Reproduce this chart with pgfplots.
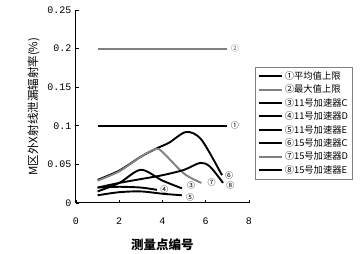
\documentclass[border=0pt]{standalone}
\usepackage{pgfplots}
\pgfplotsset{compat=1.18}
\usepackage{fontspec}
\setmainfont{Liberation Serif}
\newfontfamily\cjk{Noto Sans CJK SC}
\newfontfamily\monof{Liberation Mono}
\tikzset{lbl/.style={font=\cjk\fontsize{8}{8.5}\selectfont, inner sep=0.3pt, anchor=west, xshift=2pt}}
\begin{document}
\begin{tikzpicture}
\useasboundingbox (-76pt,-51pt) rectangle (286pt,203pt);
\begin{axis}[
  at={(0pt,0pt)}, anchor=south west,
  scale only axis, width=173pt, height=193pt,
  xmin=0, xmax=8, ymin=0, ymax=0.25,
  axis lines*=left,
  axis line style={line width=1pt},
  xtick={0,2,4,6,8}, xticklabels={0,2,4,6,8},
  ytick={0,0.05,0.1,0.15,0.2,0.25},
  yticklabels={0,0.05,0.1,0.15,0.2,0.25},
  tick align=inside, major tick length=3pt,
  tick style={black, line width=0.7pt},
  xticklabel style={font=\monof\fontsize{10}{11}\selectfont, yshift=-11pt},
  yticklabel style={font=\monof\fontsize{10}{11}\selectfont, xshift=-1pt},
  xlabel={\cjk 测量点编号},
  xlabel style={font=\cjk\fontsize{12.5}{13}\selectfont\bfseries, yshift=-8pt},
  ylabel={\cjk M区外X射线泄漏辐射率(\%)},
  ylabel style={font=\cjk\fontsize{11.5}{12}\selectfont, yshift=1pt},
  legend style={at={(rel axis cs:1.035,0.705)}, anchor=north west,
    draw=gray, line width=0.5pt, font=\cjk\fontsize{9.3}{10}\selectfont,
    row sep=0pt, inner sep=2.5pt},
  legend cell align=left,
  legend image code/.code={\draw[#1, line width=2pt] (0pt,0pt) -- (23pt,0pt);},
]
\addplot[black, line width=2.2pt] coordinates {(1,0.1) (7,0.1)} node[pos=1, lbl] {①};
\addlegendentry{①平均值上限}
\addplot[black!50, line width=2.2pt] coordinates {(1,0.2) (7,0.2)} node[pos=1, lbl, text=black!60] {②};
\addlegendentry{②最大值上限}
\addplot[black, line width=1.9pt, smooth] coordinates {(1,0.015) (2,0.026) (3,0.043) (4,0.029) (4.9,0.019)} node[pos=1, lbl, xshift=2pt, yshift=2.5pt] {③};
\addlegendentry{③11号加速器C}
\addplot[black, line width=1.9pt, smooth] coordinates {(1,0.02) (2,0.021) (3,0.02) (3.75,0.017)} node[pos=1, lbl] {④};
\addlegendentry{④11号加速器D}
\addplot[black, line width=1.9pt, smooth] coordinates {(1,0.01) (2,0.014) (3,0.015) (4,0.012) (4.9,0.01)} node[pos=1, lbl, xshift=1pt, yshift=-2pt] {⑤};
\addlegendentry{⑤11号加速器E}
\addplot[black, line width=1.9pt, smooth] coordinates {(1,0.03) (2,0.042) (3,0.06) (3.75,0.071) (4.3,0.078) (5.1,0.092) (5.8,0.082) (6.75,0.036)} node[pos=1, lbl] {⑥};
\addlegendentry{⑥15号加速器C}
\addplot[black!50, line width=1.9pt, smooth] coordinates {(1,0.029) (2,0.041) (3,0.06) (3.7,0.07) (4,0.066) (5,0.038) (5.8,0.026)} node[pos=1, lbl, xshift=3pt, text=black] {⑦};
\addlegendentry{⑦15号加速器D}
\addplot[black, line width=1.9pt, smooth] coordinates {(1,0.02) (2,0.026) (3,0.031) (4,0.036) (5,0.043) (5.75,0.052) (6.2,0.047) (6.8,0.026)} node[pos=1, lbl, yshift=-3pt] {⑧};
\addlegendentry{⑧15号加速器E}
\end{axis}
\end{tikzpicture}
\end{document}
